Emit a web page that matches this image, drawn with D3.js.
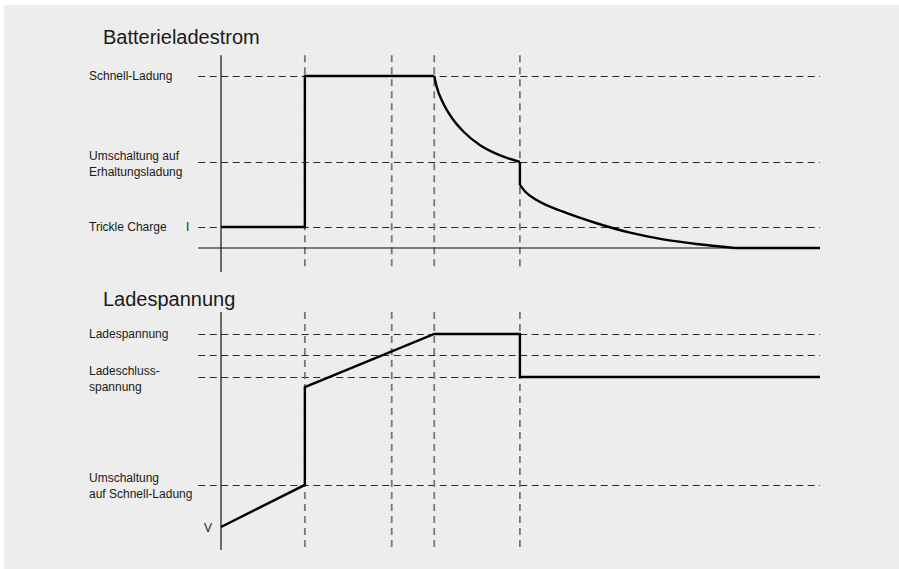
<!DOCTYPE html>
<html>
<head>
<meta charset="utf-8">
<script src="https://cdn.jsdelivr.net/npm/d3@7"></script>
<style>
  body { margin: 0; background: #fff; }
  text { font-family: "Liberation Sans", Arial, Helvetica, sans-serif; fill: #1a1a1a; }
</style>
</head>
<body>
<div id="chart"></div>
<script>
// phase switch times (t, arbitrary units 0..100)
const markers = [14, 28.5, 35.6, 49.9];

// Batterieladestrom: reference levels (relative current, 0..100)
const currentLevels = [
  { label: ["Schnell-Ladung"], v: 100 },
  { label: ["Umschaltung auf", "Erhaltungsladung"], v: 50 },
  { label: ["Trickle Charge"], v: 12.2 }
];
// current curve, split into pieces (linear / smooth)
const currentStep = [[0, 12.2], [14, 12.2], [14, 100], [35.6, 100]];
const currentDecay1 = [[35.6, 100], [36.0, 93.8], [37.1, 84.1], [38.8, 74.4], [40.5, 67.6], [43.2, 59.9], [46.0, 54.7], [49.9, 50]];
const currentDrop = [[49.9, 50], [49.9, 36.6]];
const currentDecay2 = [[49.9, 36.6], [50.8, 32.7], [52.7, 27.9], [57.1, 21.1], [62.7, 14.4], [68.3, 8.9], [73.8, 5.0], [79.4, 2.3], [85.8, 0]];
const currentTail = [[85.8, 0], [100, 0]];

// Ladespannung: reference levels (relative voltage)
const voltageLevels = [
  { label: ["Ladespannung"], v: 100 },
  { label: [], v: 89 },
  { label: ["Ladeschluss-", "spannung"], v: 77.7 },
  { label: ["Umschaltung", "auf Schnell-Ladung"], v: 21.8 }
];
const voltageCurve = [[0, 0], [14, 21.8], [14, 72.5], [35.6, 100], [49.9, 100], [49.9, 77.7], [100, 77.7]];

const W = 899, H = 569;

const svg = d3.select("#chart")
  .append("svg")
  .attr("width", W)
  .attr("height", H);

svg.append("rect")
  .attr("x", 4).attr("y", 5)
  .attr("width", W - 4).attr("height", H - 5)
  .attr("fill", "#ededed");

const x = d3.scaleLinear().domain([0, 100]).range([221, 820]);
const yI = d3.scaleLinear().domain([0, 100]).range([248, 76]);
const yV = d3.scaleLinear().domain([0, 100]).range([527, 334]);

function panel(y, levels, yTop, yBottom, title, titleY) {
  const g = svg.append("g");

  g.append("text")
    .attr("x", 103).attr("y", titleY)
    .attr("font-size", 20)
    .text(title);

  // horizontal dashed reference lines
  g.selectAll(".hl")
    .data(levels)
    .enter().append("line")
    .attr("x1", x(-3.8)).attr("x2", x(100))
    .attr("y1", d => Math.round(y(d.v)) + 0.5).attr("y2", d => Math.round(y(d.v)) + 0.5)
    .attr("stroke", "#2a2a2a")
    .attr("stroke-width", 1)
    .attr("stroke-dasharray", "7,4.5");

  // vertical dashed phase lines
  g.selectAll(".vl")
    .data(markers)
    .enter().append("line")
    .attr("x1", d => x(d)).attr("x2", d => x(d))
    .attr("y1", y(yTop)).attr("y2", y(yBottom) - 2)
    .attr("stroke", "#777")
    .attr("stroke-width", 1.8)
    .attr("stroke-dasharray", "7,5");

  // vertical axis
  g.append("line")
    .attr("x1", x(0)).attr("x2", x(0))
    .attr("y1", y(yTop)).attr("y2", y(yBottom))
    .attr("stroke", "#111")
    .attr("stroke-width", 1.2);

  // labels
  const lab = g.selectAll(".lab")
    .data(levels.filter(d => d.label.length))
    .enter().append("text")
    .attr("font-size", 12);
  lab.selectAll("tspan")
    .data(d => d.label.map((s, i) => ({ s, i, n: d.label.length, v: d.v })))
    .enter().append("tspan")
    .attr("x", 89)
    .attr("y", d => d.n === 1 ? y(d.v) + 3.5 : y(d.v) - 2.5 + d.i * 16)
    .text(d => d.s);

  return g;
}

const gTop = panel(yI, currentLevels, 112, -14, "Batterieladestrom", 44);
const gBottom = panel(yV, voltageLevels, 111.4, -11.9, "Ladespannung", 306);

// baseline of current chart
gTop.append("line")
  .attr("x1", x(-3.8)).attr("x2", x(100))
  .attr("y1", yI(0)).attr("y2", yI(0))
  .attr("stroke", "#111")
  .attr("stroke-width", 1.2);

gTop.append("text").attr("x", 186).attr("y", yI(12.2) + 4).attr("font-size", 12).text("I");
gBottom.append("text").attr("x", 204).attr("y", yV(0) + 5).attr("font-size", 12).text("V");

const curveStyle = sel => sel
  .attr("fill", "none")
  .attr("stroke", "#000")
  .attr("stroke-width", 2.4)
  .attr("stroke-linejoin", "miter")
  .attr("stroke-linecap", "butt");

const lI = d3.line().x(d => x(d[0])).y(d => yI(d[1]));
const lIs = d3.line().x(d => x(d[0])).y(d => yI(d[1])).curve(d3.curveMonotoneX);

gTop.append("path").attr("d", lI(currentStep)).call(curveStyle);
gTop.append("path").attr("d", lIs(currentDecay1)).call(curveStyle);
gTop.append("path").attr("d", lI(currentDrop)).call(curveStyle);
gTop.append("path").attr("d", lIs(currentDecay2)).call(curveStyle);
gTop.append("path").attr("d", lI(currentTail)).call(curveStyle);

const lV = d3.line().x(d => x(d[0])).y(d => yV(d[1]));
gBottom.append("path").attr("d", lV(voltageCurve)).call(curveStyle);
</script>
</body>
</html>
